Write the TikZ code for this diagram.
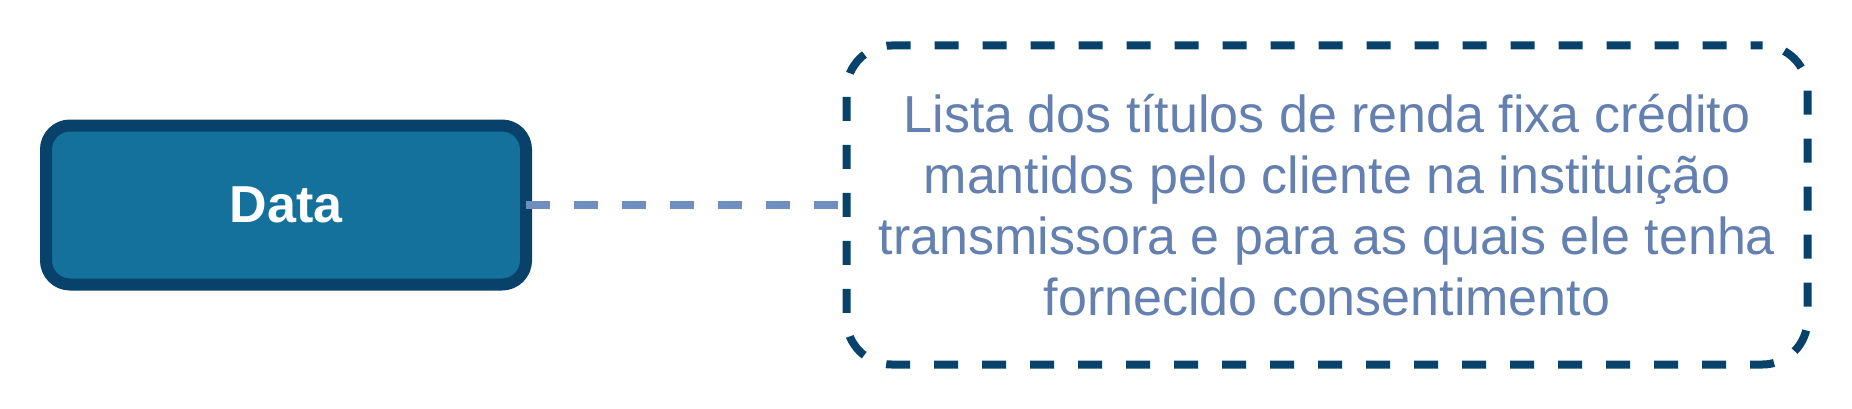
\documentclass[tikz,border=0pt]{standalone}
\usepackage{fontspec}
\setmainfont{Liberation Sans}
\usetikzlibrary{positioning}
\definecolor{navy}{RGB}{8,66,106}
\definecolor{datablue}{RGB}{20,113,156}
\definecolor{linkblue}{RGB}{110,142,190}
\definecolor{desctext}{RGB}{100,128,176}
\tikzstyle{databox} = [rectangle, rounded corners=24pt, draw=navy, line width=12pt, fill=datablue, text=white, font=\fontsize{52}{62}\selectfont\bfseries, minimum width=480pt, minimum height=159pt, inner sep=0pt, outer sep=0pt]
\tikzstyle{descbox} = [rectangle, rounded corners=45pt, draw=navy, line width=8pt, dash pattern=on 24pt off 24pt, dash phase=12pt, text=desctext, font=\fontsize{52}{61}\selectfont, align=center, minimum width=961pt, minimum height=319pt, inner sep=0pt, outer sep=0pt]
\tikzstyle{link} = [draw=linkblue, line width=8pt, dash pattern=on 24pt off 24pt]

\begin{document}
\begin{tikzpicture}[x=1pt,y=1pt]
  \useasboundingbox (0,0) rectangle (1852,408);
  \node[databox] (data) at (286,203) {Data};
  \node[descbox] (desc) [right=320.5pt of data] {Lista dos títulos de renda fixa crédito\\mantidos pelo cliente na instituição\\transmissora e para as quais ele tenha\\fornecido consentimento};

  \path (data) edge[link] (desc);
\end{tikzpicture}
\end{document}
